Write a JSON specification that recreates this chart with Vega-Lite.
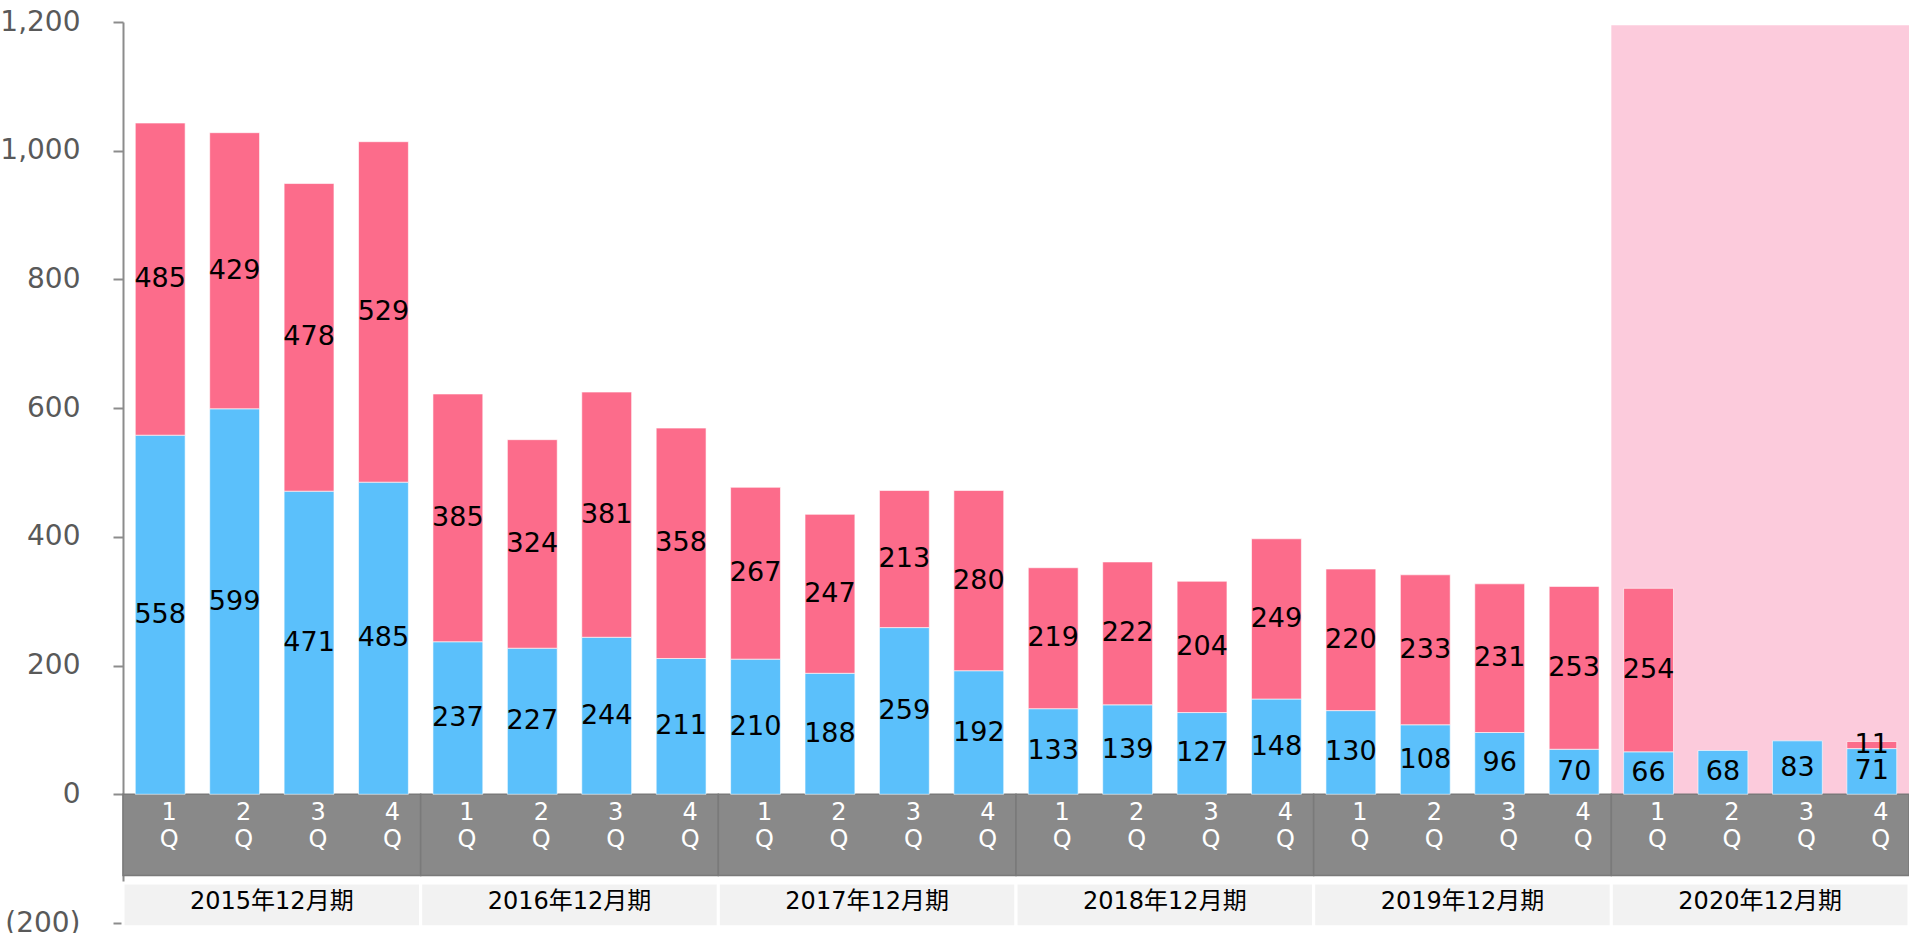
{
  "$schema": "https://vega.github.io/schema/vega-lite/v6.json",
  "width": 1786,
  "height": 901,
  "autosize": {"type": "none"},
  "padding": {"left": 123, "top": 22, "right": 0, "bottom": 10},
  "background": "white",
  "config": {"view": {"stroke": null}},
  "datasets": {
    "years": [
      {"year": "2015年12月期"},
      {"year": "2016年12月期"},
      {"year": "2017年12月期"},
      {"year": "2018年12月期"},
      {"year": "2019年12月期"},
      {"year": "2020年12月期", "highlight": true}
    ],
    "bars": [
      {"period": "2015-1Q", "q": "1", "series": "A", "value": 558, "order": 1},
      {"period": "2015-1Q", "q": "1", "series": "B", "value": 485, "order": 2},
      {"period": "2015-2Q", "q": "2", "series": "A", "value": 599, "order": 1},
      {"period": "2015-2Q", "q": "2", "series": "B", "value": 429, "order": 2},
      {"period": "2015-3Q", "q": "3", "series": "A", "value": 471, "order": 1},
      {"period": "2015-3Q", "q": "3", "series": "B", "value": 478, "order": 2},
      {"period": "2015-4Q", "q": "4", "series": "A", "value": 485, "order": 1},
      {"period": "2015-4Q", "q": "4", "series": "B", "value": 529, "order": 2},
      {"period": "2016-1Q", "q": "1", "series": "A", "value": 237, "order": 1},
      {"period": "2016-1Q", "q": "1", "series": "B", "value": 385, "order": 2},
      {"period": "2016-2Q", "q": "2", "series": "A", "value": 227, "order": 1},
      {"period": "2016-2Q", "q": "2", "series": "B", "value": 324, "order": 2},
      {"period": "2016-3Q", "q": "3", "series": "A", "value": 244, "order": 1},
      {"period": "2016-3Q", "q": "3", "series": "B", "value": 381, "order": 2},
      {"period": "2016-4Q", "q": "4", "series": "A", "value": 211, "order": 1},
      {"period": "2016-4Q", "q": "4", "series": "B", "value": 358, "order": 2},
      {"period": "2017-1Q", "q": "1", "series": "A", "value": 210, "order": 1},
      {"period": "2017-1Q", "q": "1", "series": "B", "value": 267, "order": 2},
      {"period": "2017-2Q", "q": "2", "series": "A", "value": 188, "order": 1},
      {"period": "2017-2Q", "q": "2", "series": "B", "value": 247, "order": 2},
      {"period": "2017-3Q", "q": "3", "series": "A", "value": 259, "order": 1},
      {"period": "2017-3Q", "q": "3", "series": "B", "value": 213, "order": 2},
      {"period": "2017-4Q", "q": "4", "series": "A", "value": 192, "order": 1},
      {"period": "2017-4Q", "q": "4", "series": "B", "value": 280, "order": 2},
      {"period": "2018-1Q", "q": "1", "series": "A", "value": 133, "order": 1},
      {"period": "2018-1Q", "q": "1", "series": "B", "value": 219, "order": 2},
      {"period": "2018-2Q", "q": "2", "series": "A", "value": 139, "order": 1},
      {"period": "2018-2Q", "q": "2", "series": "B", "value": 222, "order": 2},
      {"period": "2018-3Q", "q": "3", "series": "A", "value": 127, "order": 1},
      {"period": "2018-3Q", "q": "3", "series": "B", "value": 204, "order": 2},
      {"period": "2018-4Q", "q": "4", "series": "A", "value": 148, "order": 1},
      {"period": "2018-4Q", "q": "4", "series": "B", "value": 249, "order": 2},
      {"period": "2019-1Q", "q": "1", "series": "A", "value": 130, "order": 1},
      {"period": "2019-1Q", "q": "1", "series": "B", "value": 220, "order": 2},
      {"period": "2019-2Q", "q": "2", "series": "A", "value": 108, "order": 1},
      {"period": "2019-2Q", "q": "2", "series": "B", "value": 233, "order": 2},
      {"period": "2019-3Q", "q": "3", "series": "A", "value": 96, "order": 1},
      {"period": "2019-3Q", "q": "3", "series": "B", "value": 231, "order": 2},
      {"period": "2019-4Q", "q": "4", "series": "A", "value": 70, "order": 1},
      {"period": "2019-4Q", "q": "4", "series": "B", "value": 253, "order": 2},
      {"period": "2020-1Q", "q": "1", "series": "A", "value": 66, "order": 1},
      {"period": "2020-1Q", "q": "1", "series": "B", "value": 254, "order": 2},
      {"period": "2020-2Q", "q": "2", "series": "A", "value": 68, "order": 1},
      {"period": "2020-3Q", "q": "3", "series": "A", "value": 83, "order": 1},
      {"period": "2020-4Q", "q": "4", "series": "A", "value": 71, "order": 1},
      {"period": "2020-4Q", "q": "4", "series": "B", "value": 11, "order": 2}
    ]
  },
  "layer": [
    {
      "data": {"name": "years"},
      "encoding": {
        "x": {
          "field": "year",
          "type": "nominal",
          "axis": null,
          "scale": {
            "domain": ["2015年12月期", "2016年12月期", "2017年12月期", "2018年12月期", "2019年12月期", "2020年12月期"],
            "paddingInner": 0,
            "paddingOuter": 0
          }
        }
      },
      "layer": [
        {
          "transform": [{"filter": "datum.highlight === true"}],
          "mark": {"type": "bar", "color": "#fccbdc"},
          "encoding": {"y": {"datum": 0}, "y2": {"datum": 1195}}
        },
        {
          "mark": {"type": "bar", "color": "#898989", "stroke": "#7a7a7a", "strokeWidth": 1.5},
          "encoding": {"y": {"datum": 0}, "y2": {"datum": -126}}
        },
        {
          "mark": {"type": "bar", "color": "#f2f2f2", "stroke": "white", "strokeWidth": 3},
          "encoding": {"y": {"datum": -138}, "y2": {"datum": -206}}
        },
        {
          "mark": {"type": "text", "font": "DejaVu Sans, Noto Sans CJK JP", "fontSize": 24, "color": "#000000", "baseline": "middle", "align": "center"},
          "encoding": {"y": {"datum": -167}, "text": {"field": "year"}}
        }
      ]
    },
    {
      "data": {"name": "bars"},
      "encoding": {
        "x": {
          "field": "period",
          "type": "nominal",
          "axis": null,
          "scale": {"paddingInner": 0.33, "paddingOuter": 0.165}
        }
      },
      "layer": [
        {
          "mark": {"type": "bar", "stroke": "white", "strokeWidth": 1, "strokeOpacity": 0.6},
          "encoding": {
            "y": {
              "field": "value",
              "type": "quantitative",
              "stack": "zero",
              "title": null,
              "scale": {"domain": [-200, 1200], "nice": false, "zero": false},
              "axis": {
                "values": [-200, 0, 200, 400, 600, 800, 1000, 1200],
                "labelExpr": "datum.value < 0 ? '(' + format(-datum.value, ',') + ')' : format(datum.value, ',')",
                "labelFont": "DejaVu Sans",
                "labelFontSize": 28,
                "labelColor": "#595959",
                "labelPadding": 33,
                "tickSize": 10,
                "tickColor": "#8c8c8c",
                "tickWidth": 2,
                "domainColor": "#8c8c8c",
                "domainWidth": 2,
                "grid": false,
                "labelOverlap": false,
                "labelFlush": false
              }
            },
            "color": {
              "field": "series",
              "type": "nominal",
              "legend": null,
              "scale": {"domain": ["A", "B"], "range": ["#5bc0fb", "#fc6c8b"]}
            },
            "order": {"field": "order", "type": "quantitative"}
          }
        },
        {
          "transform": [
            {"stack": "value", "groupby": ["period"], "sort": [{"field": "order"}], "as": ["v0", "v1"]},
            {"calculate": "(datum.v0 + datum.v1) / 2", "as": "mid"}
          ],
          "mark": {"type": "text", "font": "DejaVu Sans", "fontSize": 27, "color": "#000000", "baseline": "middle", "align": "center"},
          "encoding": {
            "y": {"field": "mid", "type": "quantitative"},
            "text": {"field": "value", "type": "quantitative"}
          }
        },
        {
          "transform": [{"filter": "datum.series === 'A'"}],
          "mark": {"type": "text", "font": "DejaVu Sans", "fontSize": 24, "color": "white", "baseline": "middle", "align": "center", "dx": 9},
          "encoding": {"y": {"datum": -29}, "text": {"field": "q"}}
        },
        {
          "transform": [{"filter": "datum.series === 'A'"}],
          "mark": {"type": "text", "font": "DejaVu Sans", "fontSize": 24, "color": "white", "baseline": "middle", "align": "center", "dx": 9},
          "encoding": {"y": {"datum": -71}, "text": {"value": "Q"}}
        }
      ]
    }
  ],
  "resolve": {"scale": {"x": "independent"}}
}
